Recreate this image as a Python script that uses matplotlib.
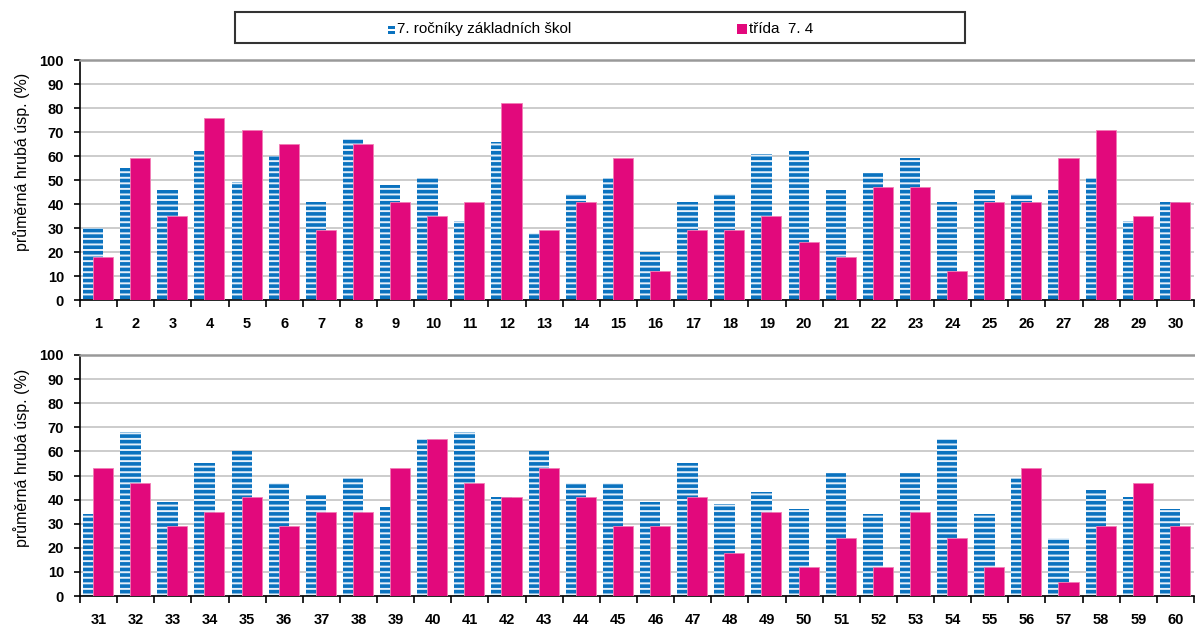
import matplotlib
matplotlib.use("Agg")
import matplotlib.pyplot as plt
from matplotlib.patches import Rectangle
import numpy as np

plt.rcParams['font.family'] = ['Liberation Sans', 'DejaVu Sans']
plt.rcParams['hatch.linewidth'] = 2.6

# ---- data ----
questions_top = list(range(1, 31))
questions_bottom = list(range(31, 61))
schools_top = [30, 55, 46, 62, 49, 60, 41, 67, 48, 51, 33, 66, 28, 44, 51,
               20, 41, 44, 61, 62, 46, 53, 59, 41, 46, 44, 46, 51, 33, 41]
class_top = [18, 59, 35, 76, 71, 65, 29, 65, 41, 35, 41, 82, 29, 41, 59,
             12, 29, 29, 35, 24, 18, 47, 47, 12, 41, 41, 59, 71, 35, 41]
schools_bottom = [34, 68, 39, 55, 60, 47, 42, 49, 37, 65, 68, 41, 60, 47, 47,
                  39, 55, 38, 43, 36, 51, 34, 51, 65, 34, 49, 24, 44, 41, 36]
class_bottom = [53, 47, 29, 35, 41, 29, 35, 35, 53, 65, 47, 41, 53, 41, 29,
                29, 41, 18, 35, 12, 24, 12, 35, 24, 12, 53, 6, 29, 47, 29]
series_names = ["7. ročníky základních škol", "třída  7. 4"]
ylabel = "průměrná hrubá úsp. (%)"

BLUE = '#0A72BF'
BLUE_FACE = '#e4f0fa'
PINK = '#E2097C'

W, H = 1195, 625
fig = plt.figure(figsize=(W / 100, H / 100), dpi=100)


def panel(rect, labels, blue, pink):
    ax = fig.add_axes(rect)
    n = len(labels)
    x = np.arange(n)
    ax.bar(x + 0.08, blue, width=0.55, align='edge', facecolor=BLUE_FACE,
           edgecolor=BLUE, linewidth=0, hatch='---', zorder=2)
    ax.bar(x + 0.35, pink, width=0.54, align='edge', color=PINK,
           edgecolor='#f27db5', linewidth=0.6, zorder=3)
    ax.set_xlim(0, n)
    ax.set_ylim(0, 100)
    ax.set_yticks(np.arange(0, 101, 10))
    ax.yaxis.grid(True, color='#c4c4c4', linewidth=1.2, zorder=0)
    ax.set_axisbelow(True)
    ax.set_xticks(x + 0.5)
    ax.set_xticklabels([str(v) for v in labels], fontweight='bold', fontsize=10.5)
    ax.set_xticks(np.arange(0, n + 1), minor=True)
    ax.tick_params(axis='x', which='major', length=0, pad=12)
    ax.tick_params(axis='x', which='minor', length=5, width=1.2, direction='out')
    ax.tick_params(axis='y', length=4.5, width=1.2, direction='out', pad=7)
    for t in ax.get_yticklabels():
        t.set_fontweight('bold')
        t.set_fontsize(10.5)
    ax.spines['right'].set_visible(False)
    ax.spines['top'].set_color('#999999')
    ax.spines['top'].set_linewidth(1.8)
    ax.spines['left'].set_linewidth(1.2)
    ax.spines['bottom'].set_linewidth(1.2)
    ax.set_ylabel(ylabel, fontsize=11.5)
    ax.yaxis.set_label_coords(-0.0445, 0.575)
    return ax


panel([80 / W, 1 - 300 / H, 1114 / W, 240 / H], questions_top, schools_top, class_top)
panel([80 / W, 1 - 596 / H, 1114 / W, 241 / H], questions_bottom, schools_bottom, class_bottom)

# legend box
fig.patches.append(Rectangle((235 / W, 1 - 43 / H), 730 / W, 31 / H,
                             transform=fig.transFigure, facecolor='white',
                             edgecolor='#333333', linewidth=1.5))
fig.patches.append(Rectangle((388 / W, 1 - 34 / H), 7 / W, 3 / H,
                             transform=fig.transFigure, facecolor=BLUE,
                             edgecolor='none'))
fig.patches.append(Rectangle((388 / W, 1 - 29 / H), 7 / W, 3 / H,
                             transform=fig.transFigure, facecolor=BLUE,
                             edgecolor='none'))
fig.text(397 / W, 1 - 29 / H, series_names[0], fontsize=11, va='center', ha='left')
fig.patches.append(Rectangle((737 / W, 1 - 34 / H), 10 / W, 10 / H,
                             transform=fig.transFigure, facecolor=PINK,
                             edgecolor='none'))
fig.text(749 / W, 1 - 29 / H, series_names[1], fontsize=11, va='center', ha='left')

fig.savefig('out.png', dpi=100)
